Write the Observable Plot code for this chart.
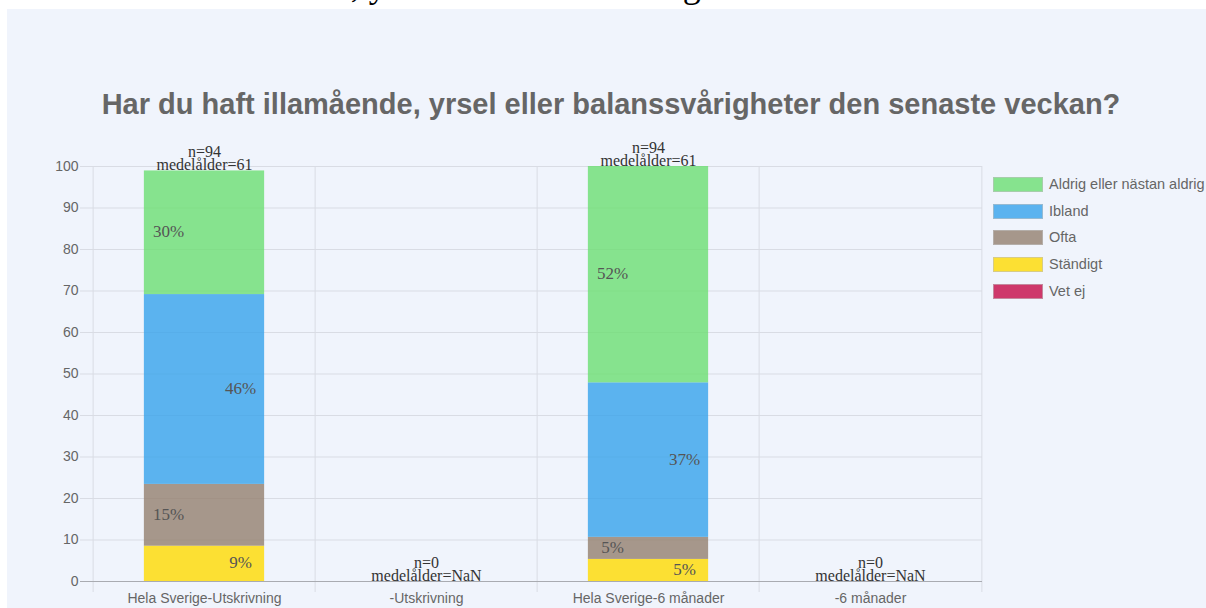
<!DOCTYPE html>
<html><head><meta charset="utf-8">
<script src="https://cdn.jsdelivr.net/npm/d3@7"></script>
<script src="https://cdn.jsdelivr.net/npm/@observablehq/plot@0.6"></script>
<style>
html,body{margin:0;padding:0;background:#fff;width:1206px;height:608px;overflow:hidden;position:relative}
#panel{position:absolute;left:7px;top:9px;width:1199px;height:599px;background:#f0f4fc}
#doc{position:absolute;left:20px;top:-33px;font:36px/36px "Liberation Serif","Times New Roman",serif;color:#000;white-space:nowrap}
#title{position:absolute;left:0;top:90px;width:1222px;text-align:center;font:bold 29px/29px "Liberation Sans",Arial,sans-serif;color:#666;white-space:nowrap}
#chart{position:absolute;left:0;top:0}
#legend{position:absolute;left:993px;top:177px;font:14.5px/15px "Liberation Sans",Arial,sans-serif;color:#666;white-space:nowrap}
.item{position:absolute;left:0;height:15px}
.box{position:absolute;left:0;top:0;width:48px;height:13px;border:1px solid rgba(190,190,190,0.6)}
.lab{position:absolute;left:56px;top:0}
</style>
</head><body>
<div id="doc">Har du haft illamående, yrsel eller balanssvårigheter den senaste veckan?</div>
<div id="panel"></div>
<div id="title">Har du haft illamående, yrsel eller balanssvårigheter den senaste veckan?</div>
<div id="chart"></div>
<div id="legend"></div>
<script>
const categories = ["Hela Sverige-Utskrivning", "-Utskrivning", "Hela Sverige-6 månader", "-6 månader"];
const series = ["Aldrig eller nästan aldrig", "Ibland", "Ofta", "Ständigt", "Vet ej"];
const seriesColors = ["rgb(107,223,114)", "rgb(54,162,235)", "rgb(148,127,110)", "rgb(255,219,0)", "rgb(198,9,70)"];
const aldrig   = [29.79, 0, 52.13, 0];
const ibland   = [45.74, 0, 37.23, 0];
const ofta     = [14.89, 0, 5.32, 0];
const standigt = [8.51, 0, 5.32, 0];
const vetEj    = [0, 0, 0, 0];
const nValues  = [94, 0, 94, 0];
const ageValues = ["61", "NaN", "61", "NaN"];
const yTicks = [0, 10, 20, 30, 40, 50, 60, 70, 80, 90, 100];

const seriesValues = [aldrig, ibland, ofta, standigt, vetEj];
const W = 1206, H = 608, mL = 91, mR = 224, mT = 166, mB = 27;
const bw = (W - mL - mR) / categories.length;
const inset = (bw - 121) / 2;
const grid = "#d9dce4";

// stack from bottom: Ständigt, Ofta, Ibland, Aldrig, Vet ej
const stackIdx = [3, 2, 1, 0, 4];
const rows = [];
categories.forEach((c, i) => {
  stackIdx.forEach(s => rows.push({cat: c, series: series[s], si: s, value: seriesValues[s][i]}));
});
const totals = categories.map((c, i) => seriesValues.reduce((a, v) => a + v[i], 0));

const pctText = side => d => (d.value > 0 && ((d.si % 2 === 0) === (side === "left"))) ? Math.round(d.value) + "%" : null;
const serif = "Liberation Serif, Times New Roman, serif";

const chart = Plot.plot({
  width: W, height: H,
  marginLeft: mL, marginRight: mR, marginTop: mT, marginBottom: mB,
  style: {background: "transparent", fontFamily: "Liberation Sans, Arial, sans-serif", fontSize: "14px", color: "#666", overflow: "visible"},
  x: {domain: categories, padding: 0},
  y: {domain: [0, 100], label: null},
  color: {domain: series, range: seriesColors},
  marks: [
    Plot.ruleY(yTicks.filter(t => t > 0), {y: d => d, stroke: grid, insetLeft: -11}),
    Plot.ruleX(categories, {x: d => d, dx: -bw / 2, stroke: grid, insetBottom: -11}),
    Plot.ruleX(categories.slice(-1), {x: d => d, dx: bw / 2, stroke: grid, insetBottom: -11}),
    Plot.barY(rows, {x: "cat", y: "value", z: "series", fill: "series", fillOpacity: 0.8, insetLeft: inset, insetRight: inset}),
    Plot.ruleY([0], {y: d => d, stroke: "#a9abb1", insetLeft: -11}),
    Plot.text(rows, Plot.stackY({x: "cat", y: "value", z: "series", text: pctText("left"), dx: -36, dy: -1, fill: "#555", fontFamily: serif, fontSize: 17})),
    Plot.text(rows, Plot.stackY({x: "cat", y: "value", z: "series", text: pctText("right"), dx: 36, dy: -1, fill: "#555", fontFamily: serif, fontSize: 17})),
    Plot.text(categories, {x: d => d, y: (d, i) => totals[i], text: (d, i) => `n=${nValues[i]}\nmedelålder=${ageValues[i]}`,
      lineAnchor: "bottom", lineHeight: 0.8, dy: -1, fill: "#333", fontFamily: serif, fontSize: 16}),
    Plot.axisY(yTicks, {tickSize: 0, tickPadding: 13, fontSize: 14, label: null}),
    Plot.axisX({tickSize: 0, tickPadding: 12, fontSize: 14, label: null})
  ]
});
document.getElementById("chart").appendChild(chart);

const legend = d3.select("#legend");
series.forEach((s, i) => {
  const it = legend.append("div").attr("class", "item").style("top", (i * 26.67) + "px");
  it.append("div").attr("class", "box").style("background", seriesColors[i].replace("rgb", "rgba").replace(")", ",0.8)"));
  it.append("div").attr("class", "lab").text(s);
});
</script>
</body></html>
